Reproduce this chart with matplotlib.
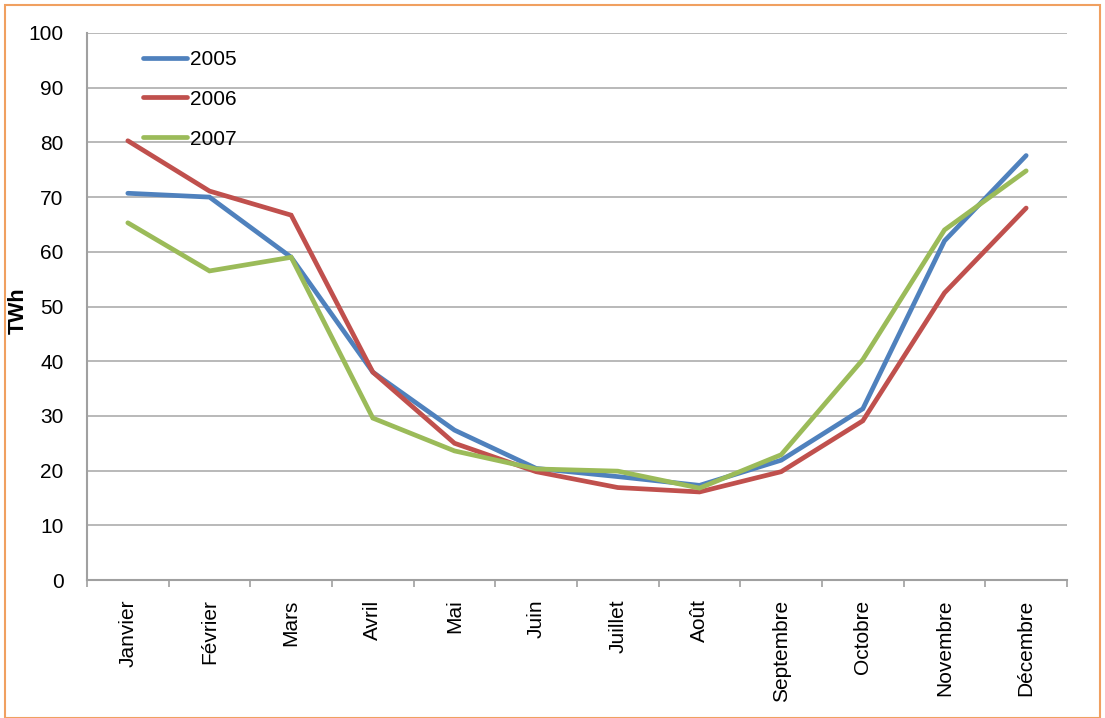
import matplotlib
matplotlib.use("Agg")
import matplotlib.pyplot as plt
from matplotlib.patches import Rectangle
import numpy as np

plt.rcParams['font.family'] = ['Liberation Sans', 'DejaVu Sans']

months = ["Janvier", "Février", "Mars", "Avril", "Mai", "Juin", "Juillet",
          "Août", "Septembre", "Octobre", "Novembre", "Décembre"]
conso_2005 = [70.7, 70.0, 59.0, 38.0, 27.4, 20.4, 18.9, 17.3, 21.9, 31.3, 62.0, 77.6]
conso_2006 = [80.3, 71.1, 66.7, 38.0, 25.0, 19.8, 16.9, 16.1, 19.8, 29.1, 52.5, 68.0]
conso_2007 = [65.3, 56.5, 59.0, 29.6, 23.6, 20.3, 19.9, 16.8, 22.9, 40.3, 64.0, 74.8]
years = ["2005", "2006", "2007"]
colors = ["#4F81BD", "#C0504D", "#9BBB59"]
yticks = [0, 10, 20, 30, 40, 50, 60, 70, 80, 90, 100]

fig = plt.figure(figsize=(11.05, 7.18), dpi=100)
ax = fig.add_axes([87 / 1105, 1 - 580 / 718, 980 / 1105, 547 / 718])

x = np.arange(len(months))
for series, label, color in zip([conso_2005, conso_2006, conso_2007], years, colors):
    ax.plot(x, series, color=color, lw=3.4, label=label, solid_capstyle='round',
            solid_joinstyle='miter')

ax.set_xlim(-0.5, len(months) - 0.5)
ax.set_ylim(0, 100)
ax.set_yticks(yticks)
ax.set_yticklabels([str(v) for v in yticks], fontsize=15)
ax.set_xticks(x)
ax.set_xticklabels(months, rotation=90, fontsize=15)
ax.tick_params(axis='x', length=0, pad=14)
ax.set_xticks(np.arange(-0.5, len(months)), minor=True)
ax.tick_params(axis='x', which='minor', length=5, color='#A0A0A0', width=1.2, direction='out')
ax.tick_params(axis='y', length=0, pad=17)

ax.grid(axis='y', color='#A6A6A6', lw=1.1)
ax.set_axisbelow(True)
for side in ['top', 'right']:
    ax.spines[side].set_visible(False)
for side in ['left', 'bottom']:
    ax.spines[side].set_color('#A0A0A0')
    ax.spines[side].set_linewidth(1.5)

fig.text(18 / 1105, 1 - 311 / 718, "TWh", rotation=90, fontsize=15.5, fontweight='bold',
         ha='center', va='center')

leg = ax.legend(loc='upper left', bbox_to_anchor=(0.057, 0.969), frameon=False,
                fontsize=15, handlelength=2.1, handletextpad=0.15, labelspacing=1.0,
                borderaxespad=0, borderpad=0)

fig.patches.append(Rectangle((5 / 1105, 0.0), 1095 / 1105, 1 - 5 / 718,
                             transform=fig.transFigure, fill=False,
                             edgecolor='#F0A060', lw=1.5))

fig.savefig("out.png", dpi=100, facecolor='white')
